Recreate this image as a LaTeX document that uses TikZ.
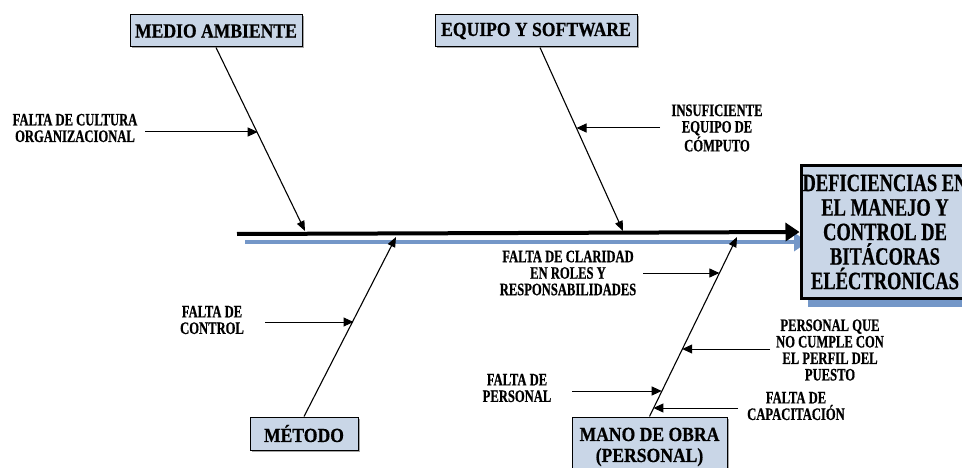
\documentclass[tikz,border=0pt]{standalone}
\usepackage{fontspec}
\usetikzlibrary{arrows.meta,calc}
\newfontfamily\boxfont[FakeStretch=0.88,FakeBold=0.6]{Liberation Serif}
\newfontfamily\headfont[FakeStretch=0.74,FakeBold=0.6]{Liberation Serif}
\newfontfamily\causefont[FakeStretch=0.72,FakeBold=0.6]{Liberation Serif}
\definecolor{boxfill}{HTML}{C9D6E7}
\definecolor{shadowblue}{HTML}{7497C8}
\tikzset{
  catbox/.style={draw=black, line width=1pt, fill=boxfill, inner sep=0pt,
    align=center, font=\boxfont\bfseries\fontsize{20}{21}\selectfont},
  headbox/.style={draw=black, line width=3pt, fill=boxfill, inner sep=0pt,
    align=center, minimum width=168pt, minimum height=132pt,
    font=\headfont\bfseries\fontsize{25}{24.5}\selectfont},
  causetext/.style={inner sep=0pt, align=center,
    font=\causefont\bfseries\fontsize{17.5}{16.5}\selectfont},
  bone/.style={line width=1.1pt},
  cause/.style={line width=1pt, -{Triangle[length=10pt,width=9pt]}},
  spine/.style={line width=4pt, -{Triangle[length=14pt,width=18pt]}},
}
\begin{document}
\begin{tikzpicture}[x=1pt,y=-1pt]
\useasboundingbox (0,0) rectangle (962,468);
\clip (0,0) rectangle (962,468);

% spine shadow and head box shadow
\coordinate (sh0) at (245,242);
\coordinate (sh1) at (808,242);
\draw[line width=4pt, draw=shadowblue, -{Triangle[length=14pt,width=18pt]}] (sh0) -- (sh1);
\fill[shadowblue] (808,174) rectangle (980,307);

% effect box
\node[headbox] (head) at (885,232)
  {DEFICIENCIAS EN\\EL MANEJO Y\\CONTROL DE\\BITÁCORAS\\ELÉCTRONICAS};

% spine
\coordinate (tail) at (237,234);
\draw[spine] (tail) -- (head.west);

% category boxes with thin shadows
\foreach \p/\w/\h in {{216,31}/172/32,{536,31}/202/32,{304,433.5}/108/33,{649.5,456}/155/78}
  \fill[black!35] ($(\p)+(-\w/2+1.5,-\h/2+1.5)$) rectangle ($(\p)+(\w/2+1.5,\h/2+1.5)$);
\node[catbox, minimum width=172pt, minimum height=32pt] (env) at (216,31) {MEDIO AMBIENTE};
\node[catbox, minimum width=202pt, minimum height=32pt] (equip) at (536,31) {EQUIPO Y SOFTWARE};
\node[catbox, minimum width=108pt, minimum height=33pt] (meth) at (304,433.5) {MÉTODO};
\node[catbox, minimum width=155pt, minimum height=78pt] (labor) at (649.5,456) {};
\node[inner sep=0pt, align=center, font=\boxfont\bfseries\fontsize{20}{21}\selectfont]
  (laborText) at (649.5,447) {MANO DE OBRA\\(PERSONAL)};

% bone tips on the spine
\coordinate (envTip) at (305,231);
\coordinate (equipTip) at (623,231);
\coordinate (methTip) at (396,237);
\coordinate (laborTip) at (737,237);

% bones
\draw[bone, -{Triangle[length=10pt,width=8pt]}] (env.south) -- (envTip);
\draw[bone, -{Triangle[length=10pt,width=8pt]}] ([xshift=4pt]equip.south) -- (equipTip);
\draw[bone, -{Triangle[length=10pt,width=8pt]}] (meth.north) -- (methTip);
\draw[bone, -{Triangle[length=10pt,width=8pt]}] (labor.north) -- (laborTip);

% cause labels
\node[causetext] (c1) at (75,128) {FALTA DE CULTURA\\ORGANIZACIONAL};
\node[causetext] (c2) at (717,128) {INSUFICIENTE\\EQUIPO DE\\CÓMPUTO};
\node[causetext] (c3) at (212,320) {FALTA DE\\CONTROL};
\node[causetext] (c4) at (568,273) {FALTA DE CLARIDAD\\EN ROLES Y\\RESPONSABILIDADES};
\node[causetext] (c5) at (830,350) {PERSONAL QUE\\NO CUMPLE CON\\EL PERFIL DEL\\PUESTO};
\node[causetext] (c6) at (517,388) {FALTA DE\\PERSONAL};
\node[causetext] (c7) at (796,406) {FALTA DE\\CAPACITACIÓN};

% cause arrow ends
\coordinate (s1) at (145,132);  \coordinate (t1) at (257.7,132);
\coordinate (s2) at (660,128);  \coordinate (t2) at (576.5,128);
\coordinate (s3) at (265,322);  \coordinate (t3) at (353.5,322);
\coordinate (s4) at (643,273);  \coordinate (t4) at (719.4,273);
\coordinate (s5) at (770,349);  \coordinate (t5) at (682.2,349);
\coordinate (s6) at (572,391);  \coordinate (t6) at (661.7,391);
\coordinate (s7) at (738,408);  \coordinate (t7) at (653.4,408);

\foreach \i in {1,...,7} \draw[cause] (s\i) -- (t\i);
\end{tikzpicture}
\end{document}
